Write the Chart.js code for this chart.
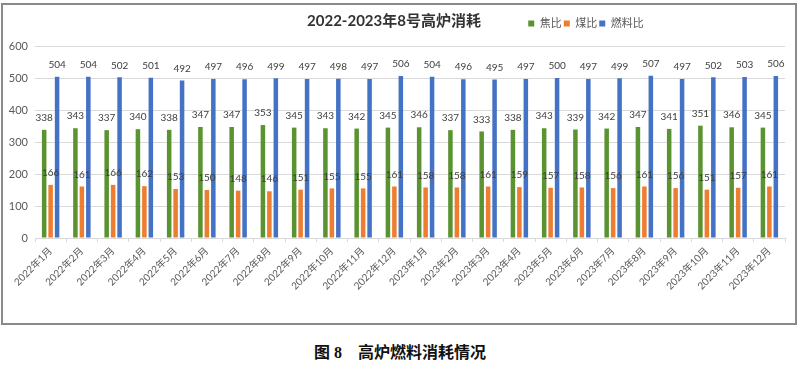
<!DOCTYPE html>
<html>
<head>
<meta charset="utf-8">
<script src="https://cdn.jsdelivr.net/npm/chart.js@4.4.1/dist/chart.umd.min.js"></script>
<style>
  body { margin: 0; background: #fff; width: 800px; height: 369px; position: relative; overflow: hidden; }
  #frame { position: absolute; left: 1px; top: 3px; width: 796px; height: 322px; border: 2px solid #8a8a8a; box-sizing: border-box; }
  #caption { position: absolute; left: 0; width: 800px; top: 339px; text-align: center; font: bold 16px "Liberation Serif", "Noto Sans CJK SC", serif; color: #111; }
  #caption .cn { font-family: "Noto Sans CJK SC", sans-serif; }
</style>
</head>
<body>
<div id="frame"><canvas id="chart" width="792" height="318"></canvas></div>
<div id="caption"><span class="cn">图</span> 8<span class="cn">　高炉燃料消耗情况</span></div>
<script>
const months = [
  "2022年1月", "2022年2月", "2022年3月", "2022年4月", "2022年5月", "2022年6月",
  "2022年7月", "2022年8月", "2022年9月", "2022年10月", "2022年11月", "2022年12月",
  "2023年1月", "2023年2月", "2023年3月", "2023年4月", "2023年5月", "2023年6月",
  "2023年7月", "2023年8月", "2023年9月", "2023年10月", "2023年11月", "2023年12月"
];
const cokeRate = [338, 343, 337, 340, 338, 347, 347, 353, 345, 343, 342, 345, 346, 337, 333, 338, 343, 339, 342, 347, 341, 351, 346, 345];
const coalRate = [166, 161, 166, 162, 153, 150, 148, 146, 151, 155, 155, 161, 158, 158, 161, 159, 157, 158, 156, 161, 156, 151, 157, 161];
const fuelRate = [504, 504, 502, 501, 492, 497, 496, 499, 497, 498, 497, 506, 504, 496, 495, 497, 500, 497, 499, 507, 497, 502, 503, 506];
const yTicks = [0, 100, 200, 300, 400, 500, 600];

const fontFamily = "Lato, 'Noto Sans CJK SC', sans-serif";

// value labels above every bar
const valueLabels = {
  id: "valueLabels",
  afterDatasetsDraw(chart) {
    const ctx = chart.ctx;
    ctx.save();
    ctx.font = "10px " + fontFamily;
    ctx.fillStyle = "#404040";
    ctx.textAlign = "center";
    ctx.textBaseline = "middle";
    chart.data.datasets.forEach((ds, i) => {
      chart.getDatasetMeta(i).data.forEach((bar, j) => {
        ctx.fillText(ds.data[j], bar.x, bar.y - 12);
      });
    });
    ctx.restore();
  }
};

// move the legend up onto the title line, right of the title
const legendBeside = {
  id: "legendBeside",
  afterLayout(chart) {
    const lg = chart.legend;
    const cx = 580;
    const lw = lg.lineWidths[0] || 110;
    const h = lg.height;
    lg.left = cx - lw / 2 - 2;
    lg.right = cx + lw / 2 + 8;
    lg.top = 11;
    lg.bottom = 11 + h;
  }
};

new Chart(document.getElementById("chart"), {
  type: "bar",
  data: {
    labels: months,
    datasets: [
      { label: "焦比", data: cokeRate, backgroundColor: "#5b9331" },
      { label: "煤比", data: coalRate, backgroundColor: "#ed7d31" },
      { label: "燃料比", data: fuelRate, backgroundColor: "#4472c4" }
    ]
  },
  options: {
    responsive: false,
    animation: false,
    layout: { padding: { left: 0, right: 10, top: 0, bottom: 0 } },
    datasets: { bar: { categoryPercentage: 0.62, barPercentage: 0.7 } },
    plugins: {
      title: {
        display: true,
        text: "2022-2023年8号高炉消耗",
        color: "#333333",
        font: { size: 15, weight: "bold", family: fontFamily },
        padding: { top: 7, bottom: 0 }
      },
      legend: {
        position: "top",
        maxHeight: 16,
        labels: {
          boxWidth: 6,
          boxHeight: 6,
          padding: 2,
          color: "#595959",
          font: { size: 11, family: fontFamily }
        }
      },
      tooltip: { enabled: false }
    },
    scales: {
      x: {
        afterFit(s) { s.height = 85; },
        border: { color: "#d9d9d9" },
        grid: { display: true, drawOnChartArea: false, drawTicks: true, tickLength: 4, color: "#d9d9d9" },
        ticks: {
          autoSkip: false,
          minRotation: 45,
          maxRotation: 45,
          color: "#595959",
          font: { size: 10, family: fontFamily }
        }
      },
      y: {
        min: 0,
        max: 600,
        afterFit(s) { s.width = 32; },
        afterBuildTicks(s) { s.ticks = yTicks.map(v => ({ value: v })); },
        border: { display: false },
        grid: { color: "#d9d9d9", drawTicks: false },
        ticks: {
          padding: 7,
          color: "#595959",
          font: { size: 11, family: fontFamily }
        }
      }
    }
  },
  plugins: [valueLabels, legendBeside]
});
</script>
</body>
</html>
